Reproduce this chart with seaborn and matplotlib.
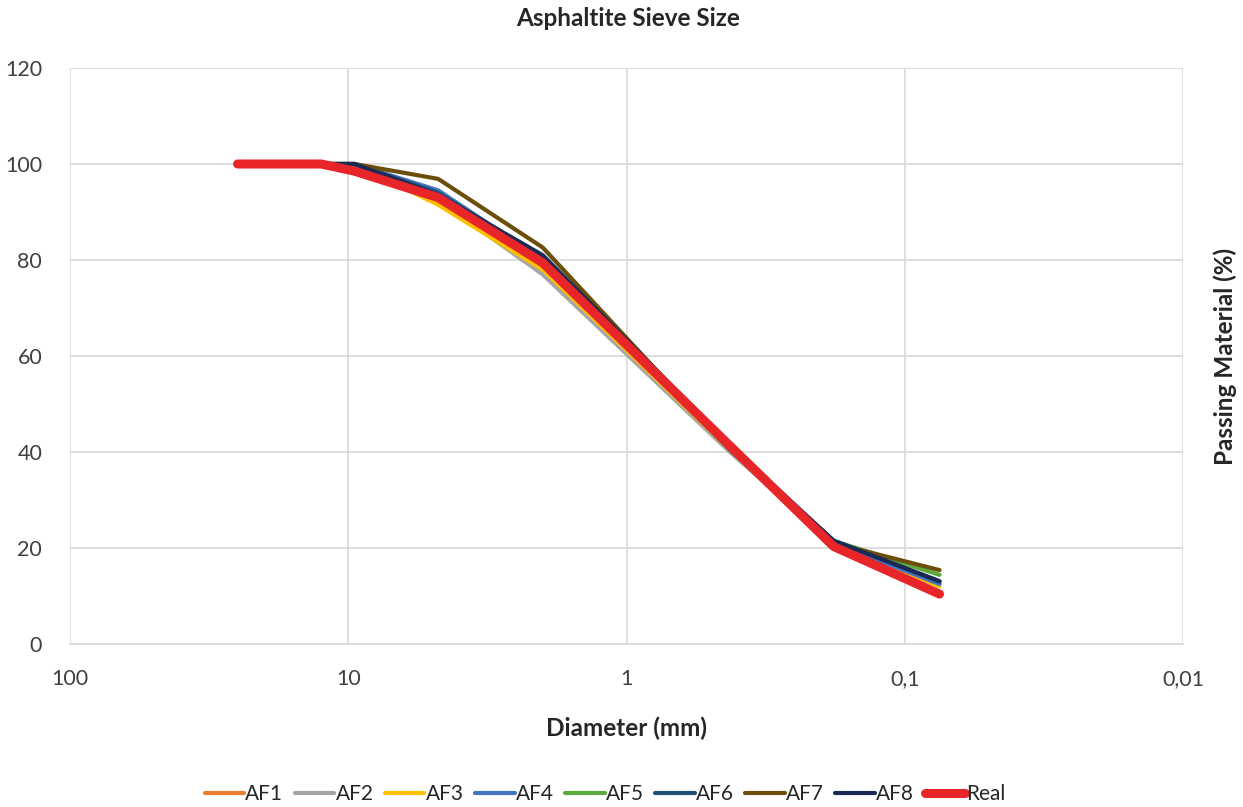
import matplotlib
matplotlib.use("Agg")
import matplotlib.pyplot as plt
import matplotlib.ticker as mticker
import seaborn as sns
import pandas as pd

diameters = [25, 12.5, 9.5, 4.75, 2.0, 0.425, 0.18, 0.075]
AF1 = [100, 100, 100, 93.0, 78.5, 40.5, 21.0, 12.5]
AF2 = [100, 100, 100, 92.5, 77.0, 40.0, 21.0, 13.0]
AF3 = [100, 100, 100, 91.5, 78.0, 40.5, 21.0, 12.0]
AF4 = [100, 100, 100, 94.5, 80.0, 40.5, 21.0, 12.5]
AF5 = [100, 100, 100, 93.5, 79.5, 40.5, 21.5, 14.4]
AF6 = [100, 100, 100, 94.0, 80.5, 41.0, 21.5, 13.0]
AF7 = [100, 100, 100, 96.9, 82.6, 40.5, 21.0, 15.4]
AF8 = [100, 100, 100, 93.5, 81.0, 41.5, 21.5, 13.1]
Real = [100, 100, 98.5, 93.0, 79.4, 41.3, 20.3, 10.4]

series_names = ["AF1", "AF2", "AF3", "AF4", "AF5", "AF6", "AF7", "AF8", "Real"]
series_vals = [AF1, AF2, AF3, AF4, AF5, AF6, AF7, AF8, Real]
colors = ["#ED7D31", "#A5A5A5", "#FFC000", "#4472C4", "#5BA83C",
          "#1F4E79", "#6B4E0A", "#1B2A55", "#E8262A"]
x_ticks = [100, 10, 1, 0.1, 0.01]
x_tick_labels = ["100", "10", "1", "0,1", "0,01"]

rows = []
for name, vals in zip(series_names, series_vals):
    for d, v in zip(diameters, vals):
        rows.append({"Diameter": d, "Passing": v, "Series": name})
df = pd.DataFrame(rows)

sns.set_theme(style="white")
plt.rcParams["font.family"] = ["Lato", "DejaVu Sans"]

fig = plt.figure(figsize=(12.43, 8.07), dpi=100)
ax = fig.add_axes([70/1243, 1 - 644/807, (1183-70)/1243, (644-68)/807])

for name, col in zip(series_names, colors):
    sub = df[df["Series"] == name]
    lw = 6.5 if name == "Real" else 3.0
    sns.lineplot(data=sub, x="Diameter", y="Passing", color=col, lw=lw, ax=ax,
                 label=name, solid_capstyle="round", solid_joinstyle="round",
                 zorder=3 if name != "Real" else 4, legend=False)

ax.set_xscale("log")
ax.set_xlim(100, 0.01)
ax.set_ylim(0, 120)
ax.xaxis.set_major_locator(mticker.FixedLocator(x_ticks))
ax.xaxis.set_major_formatter(mticker.FixedFormatter(x_tick_labels))
ax.xaxis.set_minor_locator(mticker.NullLocator())
ax.set_yticks([0, 20, 40, 60, 80, 100, 120])
ax.grid(True, color="#D9D9D9", lw=1.2)
for s in ["top", "right", "left"]:
    ax.spines[s].set_visible(False)
ax.spines["bottom"].set_color("#D9D9D9")
ax.spines["bottom"].set_linewidth(1.2)
ax.tick_params(axis="x", length=0, labelsize=15.5, colors="#404040", pad=18)
ax.tick_params(axis="y", length=0, labelsize=15.5, colors="#404040", pad=20)

ax.set_xlabel("Diameter (mm)", fontsize=17.5, fontweight="bold", labelpad=20)
ax.set_ylabel("Passing Material (%)", fontsize=17.5, fontweight="bold", labelpad=22)
ax.yaxis.set_label_position("right")
fig.text(628/1243, 1 - 19/807, "Asphaltite Sieve Size", ha="center", va="center",
         fontsize=17.5, fontweight="bold")

handles = [plt.Line2D([], [], color=c, lw=(6.5 if n == "Real" else 3.0),
                      solid_capstyle="round") for n, c in zip(series_names, colors)]
fig.legend(handles, series_names, loc="center", bbox_to_anchor=(605/1243, 1 - 794/807),
           ncol=9, frameon=False, fontsize=15, handlelength=1.9, handletextpad=0.05,
           columnspacing=0.55)

fig.savefig("out.png", dpi=100)
